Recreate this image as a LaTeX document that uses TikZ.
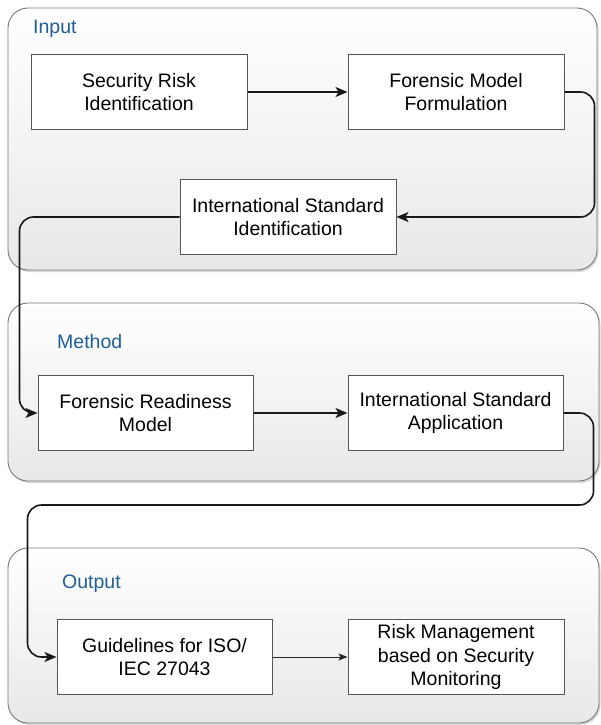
\documentclass[tikz,border=0pt]{standalone}
\usepackage{fontspec}
\setmainfont{Liberation Sans}
\usetikzlibrary{arrows.meta,shadows}
\definecolor{lanetitle}{RGB}{31,94,150}
\definecolor{laneedge}{RGB}{120,120,120}
\definecolor{boxedge}{RGB}{85,85,85}
\begin{document}
\begin{tikzpicture}[x=1pt,y=-1pt,
  lane/.style={draw=laneedge, line width=0.9pt, rounded corners=20pt,
    top color=white, bottom color=black!9,
    drop shadow={opacity=0.3, shadow xshift=1.5pt, shadow yshift=-2pt}},
  lanetitle/.style={anchor=base west, text=lanetitle, inner sep=0pt,
    font=\fontsize{19.5}{23.5}\selectfont},
  stepbox/.style={draw=boxedge, line width=1pt, fill=white,
    minimum width=216pt, minimum height=75pt, align=center, inner sep=2pt,
    font=\fontsize{19.5}{23.5}\selectfont},
  conn/.style={draw=black!90, line width=1.6pt, rounded corners=14pt,
    -{Stealth[length=12pt,width=10pt,inset=3pt]}},
  thinconn/.style={draw=black!85, line width=1pt,
    -{Stealth[length=9pt,width=7pt,inset=2pt]}}
]
\useasboundingbox (0,0) rectangle (601,725);

% swim lanes
\draw[lane] (8,8) rectangle (597,270);
\draw[lane] (8,303) rectangle (599,481);
\draw[lane] (8,548) rectangle (599,723);

\node[lanetitle] (tin)  at (33,34)  {Input};
\node[lanetitle] (tmet) at (57,348) {Method};
\node[lanetitle] (tout) at (62,588) {Output};

% process steps
\node[stepbox] (sri) at (139,92)    {Security Risk\\Identification};
\node[stepbox] (fmf) at (456,92)    {Forensic Model\\Formulation};
\node[stepbox] (isi) at (288,217)   {International Standard\\Identification};
\node[stepbox, minimum width=215pt] (frm) at (145.5,413) {Forensic Readiness\\Model};
\node[stepbox, minimum width=215pt] (isa) at (455.5,413) {International Standard\\Application};
\node[stepbox, minimum width=215pt] (gl)  at (164.5,657) {Guidelines for ISO/\\IEC 27043};
\node[stepbox] (rm)  at (456,657)   {Risk Management\\based on Security\\Monitoring};

% flow
\draw[conn] (sri.east) -- (fmf.west);
\draw[conn] (fmf.east) -- ++(30,0) |- (isi.east);
\draw[conn] (isi.west) -| ([xshift=-18pt]frm.west) -- (frm.west);
\draw[conn] (frm.east) -- (isa.west);
\draw[conn] (isa.east) -- ++(30,0) -- ++(0,92) -| ([xshift=-29pt]gl.west) -- (gl.west);
\draw[thinconn] (gl.east) -- (rm.west);
\end{tikzpicture}
\end{document}
